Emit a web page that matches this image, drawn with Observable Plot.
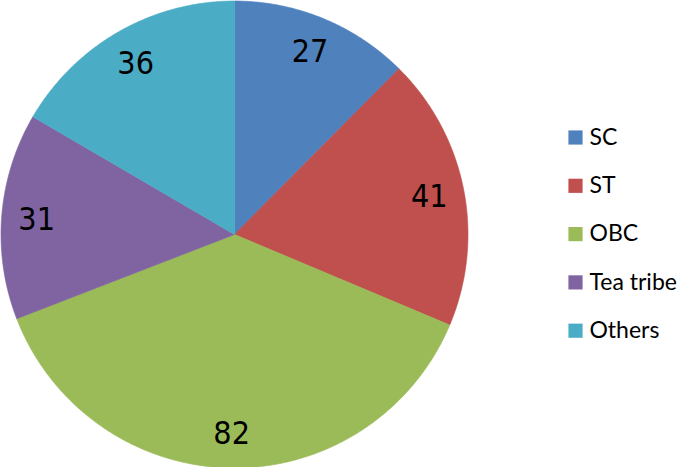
<!DOCTYPE html>
<html>
<head>
<meta charset="utf-8">
<script src="https://cdn.jsdelivr.net/npm/d3@7"></script>
<script src="https://cdn.jsdelivr.net/npm/@observablehq/plot@0.6"></script>
<style>
  html, body { margin: 0; padding: 0; background: #fff; }
  #chart { width: 685px; height: 467px; }
</style>
</head>
<body>
<div id="chart"></div>
<script>
const categories = ["SC", "ST", "OBC", "Tea tribe", "Others"];
const values = [27, 41, 82, 31, 36];
const colors = ["#4F81BD", "#C0504D", "#9BBB59", "#8064A2", "#4BACC6"];

const W = 685, H = 467;
const cx = 234, cy = 234, R = 233.5;

const data = categories.map((name, i) => ({name, value: values[i], color: colors[i]}));
const arcs = d3.pie().sort(null).value(d => d.value).startAngle(0).endAngle(2 * Math.PI)(data);

// polygon outline of each slice (geometry only, angles come from the data)
const slices = arcs.map(a => {
  const pts = [{x: cx, y: cy}];
  const n = Math.max(2, Math.ceil((a.endAngle - a.startAngle) / (Math.PI / 360)));
  for (let k = 0; k <= n; k++) {
    const t = a.startAngle + (a.endAngle - a.startAngle) * k / n;
    pts.push({x: cx + R * Math.sin(t), y: cy - R * Math.cos(t)});
  }
  pts.push({x: cx, y: cy});
  return {name: a.data.name, color: a.data.color, pts};
});

const labels = arcs.map(a => {
  const m = (a.startAngle + a.endAngle) / 2;
  const rr = R * 0.85;
  return {x: cx + rr * Math.sin(m), y: cy - rr * Math.cos(m), text: String(a.data.value)};
});

const legend = data.map((d, i) => ({name: d.name, color: d.color, x: 575, y: 137 + i * 48.3}));

const chart = Plot.plot({
  width: W,
  height: H,
  margin: 0,
  x: {domain: [0, W], range: [0, W], axis: null},
  y: {domain: [0, H], range: [0, H], axis: null},
  style: {background: "#fff"},
  marks: [
    ...slices.map(s => Plot.line(s.pts, {x: "x", y: "y", fill: s.color, stroke: s.color, strokeWidth: 0.6, curve: "linear"})),
    Plot.text(labels, {x: "x", y: "y", text: "text", fontSize: 32, fontFamily: "DejaVu Sans Condensed, DejaVu Sans", fill: "#000", textAnchor: "middle", dy: 1}),
    Plot.dot(legend, {x: "x", y: "y", symbol: "square", r: 8, fill: d => d.color, stroke: null}),
    Plot.text(legend, {x: d => d.x + 14, y: "y", text: "name", textAnchor: "start", fontSize: 23, fontFamily: "Lato", fill: "#000"})
  ]
});
document.getElementById("chart").appendChild(chart);
</script>
</body>
</html>
